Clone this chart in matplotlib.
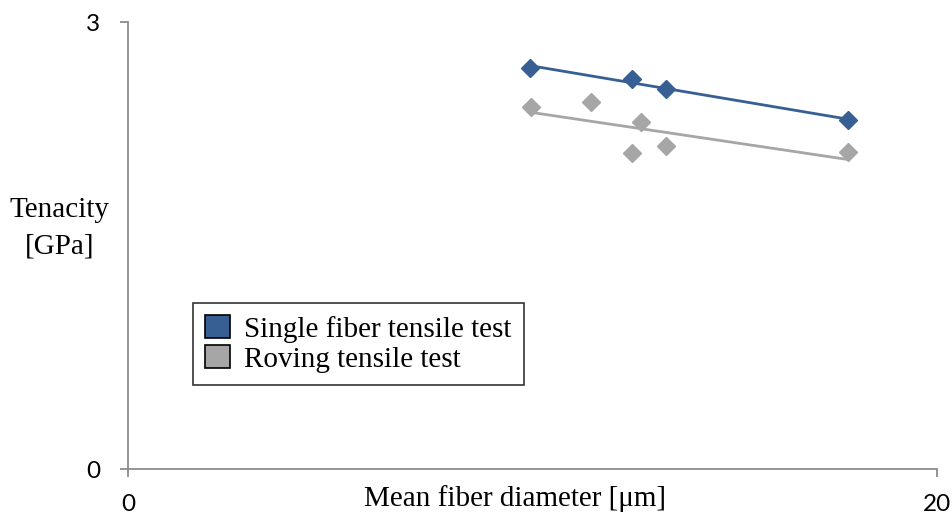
import matplotlib
matplotlib.use("Agg")
import matplotlib.pyplot as plt
from matplotlib.patches import Patch
import numpy as np

single_x = [9.94, 12.46, 13.30, 17.80]
single_y = [2.69, 2.62, 2.55, 2.34]
roving_x = [9.96, 11.45, 12.46, 12.68, 13.30, 17.80]
roving_y = [2.43, 2.46, 2.12, 2.33, 2.17, 2.13]
series_names = ["Single fiber tensile test", "Roving tensile test"]
xticks = [0, 20]
yticks = [0, 3]

blue = "#375F94"
gray = "#A6A6A6"
axis_col = "#8C8C8C"
serif = "Liberation Serif"
sans = ["Lato", "DejaVu Sans"]

fig = plt.figure(figsize=(9.52, 5.17), dpi=100)
ax = fig.add_axes([128/952, 48/517, (937-128)/952, (469-22)/517])

for xs, ys, c in [(single_x, single_y, blue), (roving_x, roving_y, gray)]:
    xs = np.array(xs); ys = np.array(ys)
    k, b = np.polyfit(xs, ys, 1)
    xl = np.array([xs.min(), xs.max()])
    ax.plot(xl, k*xl + b, color=c, lw=2.0, zorder=2, solid_capstyle="butt")
    ax.plot(xs, ys, ls="none", marker="D", ms=9, color=c, mec=c, zorder=3)

ax.set_xlim(0, 20)
ax.set_ylim(0, 3)
ax.set_xticks(xticks)
ax.set_yticks(yticks)
ax.set_xticklabels([str(t) for t in xticks])
ax.set_yticklabels([str(t) for t in yticks])
ax.tick_params(axis="both", direction="out", length=6, width=1.3, color=axis_col, labelsize=17.5)
ax.tick_params(axis="x", pad=12)
ax.tick_params(axis="y", pad=14)
for lab in ax.get_xticklabels() + ax.get_yticklabels():
    lab.set_fontfamily(sans)
for s in ["top", "right"]:
    ax.spines[s].set_visible(False)
for s in ["left", "bottom"]:
    ax.spines[s].set_color(axis_col)
    ax.spines[s].set_linewidth(1.3)

fig.text(515/952, 1 - 499/517, "Mean fiber diameter [\u03bcm]", ha="center", va="center",
         fontfamily=serif, fontsize=21)
fig.text(60/952, 1 - 228/517, "Tenacity\n[GPa]", ha="center", va="center",
         fontfamily=serif, fontsize=21, linespacing=1.5)

handles = [Patch(facecolor=blue, edgecolor="black", lw=1.2),
           Patch(facecolor=gray, edgecolor="black", lw=1.2)]
leg = ax.legend(handles, series_names, loc="lower left", bbox_to_anchor=(0.080, 0.188),
                borderaxespad=0, frameon=True, fancybox=False, prop={"family": serif, "size": 21},
                handlelength=0.85, handleheight=0.85, handletextpad=0.5, labelspacing=0.08,
                borderpad=0.42)
leg.get_frame().set_edgecolor("black")
leg.get_frame().set_linewidth(1.2)

fig.savefig("out.png", dpi=100)
